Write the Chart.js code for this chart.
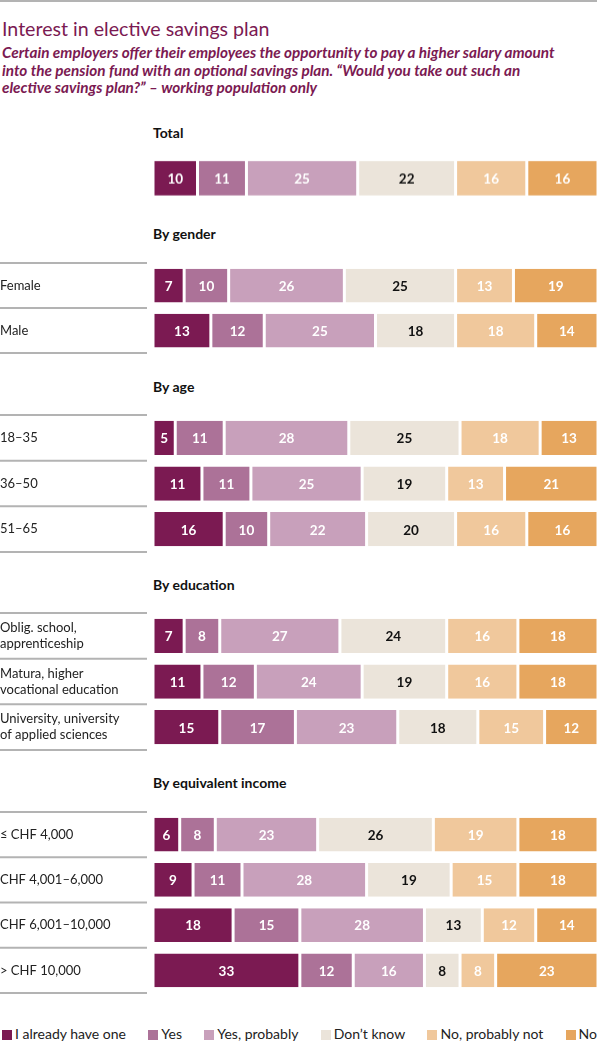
<!DOCTYPE html>
<html>
<head>
<meta charset="utf-8">
<script src="https://cdn.jsdelivr.net/npm/chart.js@4.4.1/dist/chart.umd.min.js"></script>
<style>
  body { margin: 0; background: #fff; font-family: Lato, "Open Sans", sans-serif; }
  #page { position: relative; width: 599px; height: 1042px; overflow: hidden; }
  .rule { position: absolute; left: 0; top: 0; width: 597px; height: 2px; background: #b3b3b3; }
  .title { position: absolute; left: 2px; top: 17px; font-size: 19.6px; line-height: 24px; color: #7b1a52; white-space: nowrap; }
  .sub { position: absolute; left: 2px; top: 44px; font-size: 15.3px; line-height: 17.6px; color: #7b1a52;
         font-weight: bold; font-style: italic; white-space: nowrap; }
  .head { position: absolute; left: 153px; height: 20px; line-height: 20px; font-size: 14px; font-weight: bold; color: #111; }
  .box { position: absolute; left: 0; width: 599px; }
  #legend { position: absolute; left: 2px; width: 595px; top: 1026px; height: 16px; display: flex;
            justify-content: space-between; font-size: 14px; line-height: 16px; color: #222; }
  #legend span.sw { display: inline-block; width: 10px; height: 10px; margin-right: 3px; vertical-align: -1px; }
</style>
</head>
<body>
<div id="page">
  <div class="rule"></div>
  <div class="title">Interest in elective savings plan</div>
  <div class="sub">Certain employers offer their employees the opportunity to pay a higher salary amount<br>into the pension fund with an optional savings plan. “Would you take out such an<br>elective savings plan?” – working population only</div>
  <div id="blocks"></div>
  <div id="legend"></div>
</div>
<script>
// answer categories, left to right
const answers = ['I already have one', 'Yes', 'Yes, probably', 'Don’t know', 'No, probably not', 'No'];
const answerColors = ['#7b1a52', '#ac7298', '#c8a0bb', '#ebe4da', '#f0c89c', '#e6a65e'];
const labelColors = ['#fff', '#fff', '#fff', '#111', '#fff', '#fff'];

// one row per category, values in the order of answers (%)
const totalLabels = [''];
const totalValues = [[10, 11, 25, 22, 16, 16]];

const genderLabels = ['Female', 'Male'];
const genderValues = [
  [7, 10, 26, 25, 13, 19],
  [13, 12, 25, 18, 18, 14]
];

const ageLabels = ['18–35', '36–50', '51–65'];
const ageValues = [
  [5, 11, 28, 25, 18, 13],
  [11, 11, 25, 19, 13, 21],
  [16, 10, 22, 20, 16, 16]
];

const eduLabels = [
  ['Oblig. school,', 'apprenticeship'],
  ['Matura, higher', 'vocational education'],
  ['University, university', 'of applied sciences']
];
const eduValues = [
  [7, 8, 27, 24, 16, 18],
  [11, 12, 24, 19, 16, 18],
  [15, 17, 23, 18, 15, 12]
];

const incomeLabels = ['≤ CHF 4,000', 'CHF 4,001–6,000', 'CHF 6,001–10,000', '> CHF 10,000'];
const incomeValues = [
  [6, 8, 23, 26, 19, 18],
  [9, 11, 28, 19, 15, 18],
  [18, 15, 28, 13, 12, 14],
  [33, 12, 16, 8, 8, 23]
];

// layout of the blocks on the page
const blocks = [
  { title: 'Total', labels: totalLabels, values: totalValues, headY: 133, top: 153, height: 49.5, lines: false },
  { title: 'By gender', labels: genderLabels, values: genderValues, headY: 234, top: 261, height: 94, lines: true },
  { title: 'By age', labels: ageLabels, values: ageValues, headY: 387, top: 413, height: 141, lines: true },
  { title: 'By education', labels: eduLabels, values: eduValues, headY: 585, top: 611, height: 141, lines: true },
  { title: 'By equivalent income', labels: incomeLabels, values: incomeValues, headY: 783, top: 810, height: 185, lines: true }
];

const FONT = 'Lato, "Open Sans", sans-serif';

const valueLabels = {
  id: 'valueLabels',
  afterDatasetsDraw(chart) {
    const ctx = chart.ctx;
    ctx.save();
    ctx.font = 'bold 13.5px ' + FONT;
    ctx.textAlign = 'center';
    ctx.textBaseline = 'middle';
    chart.data.datasets.forEach((ds, i) => {
      chart.getDatasetMeta(i).data.forEach((bar, j) => {
        const p = bar.getCenterPoint();
        ctx.fillStyle = labelColors[i];
        ctx.fillText(ds.data[j], p.x, p.y + 1);
      });
    });
    ctx.restore();
  }
};

const rowLines = {
  id: 'rowLines',
  afterDraw(chart, args, opts) {
    if (!opts.show) return;
    const y = chart.scales.y;
    const n = chart.data.labels.length;
    const step = (y.bottom - y.top) / n;
    const ctx = chart.ctx;
    ctx.save();
    ctx.strokeStyle = '#b3b3b3';
    ctx.lineWidth = 2;
    for (let i = 0; i <= n; i++) {
      const py = y.top + i * step;
      ctx.beginPath();
      ctx.moveTo(0, py);
      ctx.lineTo(147, py);
      ctx.stroke();
    }
    ctx.restore();
  }
};

function makeBlock(b, idx) {
  const holder = document.getElementById('blocks');
  const head = document.createElement('div');
  head.className = 'head';
  head.style.top = (b.headY - 10) + 'px';
  head.textContent = b.title;
  holder.appendChild(head);

  const box = document.createElement('div');
  box.className = 'box';
  box.style.top = b.top + 'px';
  box.style.height = b.height + 'px';
  const canvas = document.createElement('canvas');
  canvas.id = 'chart' + idx;
  box.appendChild(canvas);
  holder.appendChild(box);

  const datasets = answers.map((name, i) => ({
    label: name,
    data: b.values.map(row => row[i]),
    backgroundColor: answerColors[i],
    borderColor: '#ffffff',
    borderWidth: { left: 1.5, right: 1.5, top: 0, bottom: 0 },
    borderSkipped: false,
    barPercentage: 1,
    categoryPercentage: 0.75
  }));

  new Chart(canvas, {
    type: 'bar',
    data: { labels: b.labels, datasets: datasets },
    options: {
      indexAxis: 'y',
      responsive: true,
      maintainAspectRatio: false,
      animation: false,
      layout: { autoPadding: false, padding: { top: 2, bottom: 2, right: 1, left: 0 } },
      plugins: {
        legend: { display: false },
        tooltip: { enabled: false },
        rowLines: { show: b.lines }
      },
      scales: {
        x: { stacked: true, min: 0, max: 100, display: false },
        y: {
          stacked: true,
          grid: { display: false },
          border: { display: false },
          ticks: {
            crossAlign: 'far',
            padding: 0,
            color: '#222',
            font: { family: FONT, size: 13, lineHeight: 1.25 }
          },
          afterFit(scale) {
            scale.width = 153;
            // labels sit inside their rows, no extra room needed above/below
            scale.paddingTop = 0;
            scale.paddingBottom = 0;
          }
        }
      }
    },
    plugins: [valueLabels, rowLines]
  });
}

blocks.forEach(makeBlock);

// legend
const legend = document.getElementById('legend');
answers.forEach((name, i) => {
  const item = document.createElement('div');
  const sw = document.createElement('span');
  sw.className = 'sw';
  sw.style.background = answerColors[i];
  item.appendChild(sw);
  item.appendChild(document.createTextNode(name));
  legend.appendChild(item);
});
</script>
</body>
</html>
